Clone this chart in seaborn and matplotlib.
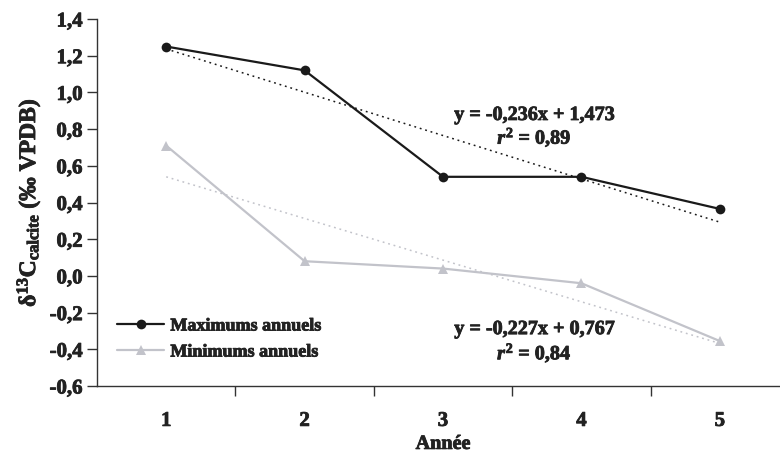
import numpy as np
import pandas as pd
import seaborn as sns
import matplotlib.pyplot as plt
import matplotlib.patheffects as pe
from matplotlib.text import Text

annees = [1, 2, 3, 4, 5]
maximums = [1.25, 1.12, 0.54, 0.54, 0.365]
minimums = [0.71, 0.08, 0.04, -0.04, -0.355]
pente_max, ordo_max = -0.236, 1.473
pente_min, ordo_min = -0.227, 0.767
y_ticks = [-0.6, -0.4, -0.2, 0.0, 0.2, 0.4, 0.6, 0.8, 1.0, 1.2, 1.4]
y_labels = ['-0,6', '-0,4', '-0,2', '0,0', '0,2', '0,4', '0,6', '0,8', '1,0', '1,2', '1,4']

sns.set_style("white")
plt.rcParams['font.family'] = ['Liberation Serif', 'DejaVu Serif']
plt.rcParams['font.weight'] = 'bold'
plt.rcParams['mathtext.fontset'] = 'custom'
plt.rcParams['mathtext.rm'] = 'Liberation Serif:bold'
plt.rcParams['mathtext.bf'] = 'Liberation Serif:bold'
plt.rcParams['mathtext.it'] = 'Liberation Serif:bold:italic'

df = pd.DataFrame({'Année': annees * 2,
                   'd13C': maximums + minimums,
                   'Série': ['Maximums annuels'] * 5 + ['Minimums annuels'] * 5})

fig = plt.figure(figsize=(7.8, 4.56), dpi=100)
ax = fig.add_axes([97 / 780, 1 - 387 / 456, (789 - 97) / 780, (387 - 20) / 456])

noir = '#1a1a1a'
gris = '#c2c3ca'
sns.lineplot(data=df, x='Année', y='d13C', hue='Série', style='Série',
             palette=[noir, gris], markers=['o', '^'], dashes=False,
             markersize=7, markeredgewidth=0, linewidth=1.6, ax=ax)

x = np.array(annees, dtype=float)
ax.plot(x, pente_max * x + ordo_max, ls=(0, (1.2, 2.5)), color=noir, lw=1.1)
ax.plot(x, pente_min * x + ordo_min, ls=(0, (1.2, 2.5)), color=gris, lw=1.1)

ax.set_xlim(0.5, 5.5)
ax.set_ylim(-0.6, 1.4)
ax.set_yticks(y_ticks)
ax.set_yticklabels(y_labels, fontsize=15, fontweight='bold')
ax.set_xticks([1.5, 2.5, 3.5, 4.5])
ax.set_xticklabels([])
for a in annees:
    ax.text(a, -0.79, str(a), ha='center', va='center', fontsize=15, fontweight='bold')

for s in ['top', 'right']:
    ax.spines[s].set_visible(False)
for s in ['left', 'bottom']:
    ax.spines[s].set_color('#333333')
    ax.spines[s].set_linewidth(1.0)
ax.tick_params(axis='both', direction='out', length=7, width=1, color='#333333',
               left=True, bottom=True)

ax.set_xlabel('Année', fontsize=14.5, fontweight='bold', labelpad=24)
ax.set_ylabel('δ$^{13}$C$_{\\mathbf{calcite}}$ (‰ VPDB)', fontsize=17, fontweight='bold', labelpad=5)

ax.text(3.66, 0.877, 'y = -0,236x + 1,473', ha='center', va='center', fontsize=14.5, fontweight='bold')
ax.text(3.66, 0.755, r'$\mathit{r}^2$ = 0,89', ha='center', va='center', fontsize=14.5, fontweight='bold')
ax.text(3.66, -0.29, 'y = -0,227x + 0,767', ha='center', va='center', fontsize=14.5, fontweight='bold')
ax.text(3.66, -0.42, r'$\mathit{r}^2$ = 0,84', ha='center', va='center', fontsize=14.5, fontweight='bold')

ax.legend(loc='center left', bbox_to_anchor=(0.029, 0.128), frameon=False, borderpad=0,
          borderaxespad=0, prop={'size': 13, 'weight': 'bold'},
          handlelength=2.6, handletextpad=0.35, labelspacing=0.5)

# les textes de la figure d'origine sont plus épais
for t in fig.findobj(Text):
    t.set_color('#222222')
    t.set_path_effects([pe.withStroke(linewidth=0.6, foreground='#222222')])

fig.savefig('out.png', dpi=100)
